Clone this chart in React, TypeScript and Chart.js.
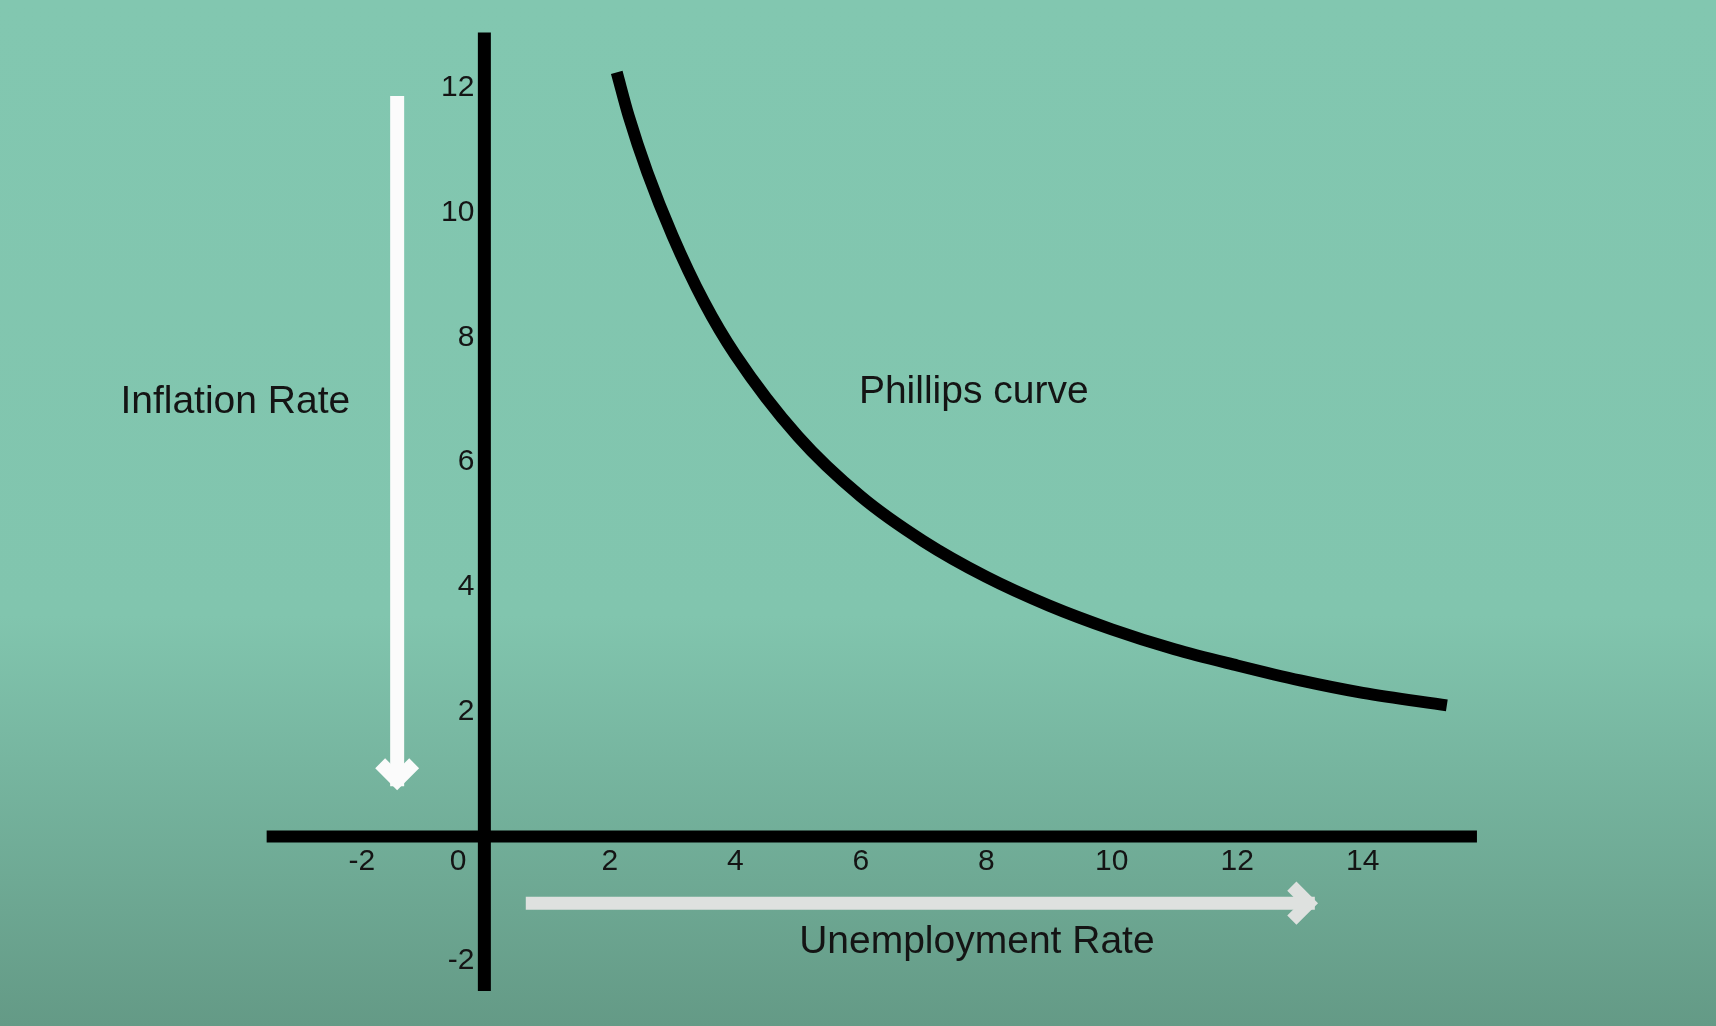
import React, { useEffect, useRef } from "react";
import { Chart, registerables } from "chart.js";

Chart.register(...registerables);

// ---- data ----
const unemployment = [2.11, 2.3, 2.6, 3.0, 3.5, 4.0, 5.0, 6.0, 7.0, 8.0, 9.0, 10.0, 11.0, 12.0, 13.0, 14.0, 15.34];
const inflation = [12.25, 11.55, 10.64, 9.63, 8.57, 7.72, 6.41, 5.45, 4.73, 4.16, 3.7, 3.32, 3.0, 2.74, 2.5, 2.3, 2.1];

const xTickValues = [-2, 0, 2, 4, 6, 8, 10, 12, 14];
const yTickValues = [12, 10, 8, 6, 4, 2, -2];

const xAxisExtent = [-3.47, 15.82];
const yAxisExtent = [-2.48, 12.89];

const curveLabel = "Phillips curve";
const xTitle = "Unemployment Rate";
const yTitle = "Inflation Rate";

// ---- layout constants (data units) ----
const X_MIN = -7.72;
const X_MAX = 19.63;
const Y_MIN = -3.04;
const Y_MAX = 13.41;

const FONT = '"Liberation Sans", Arial, Helvetica, sans-serif';
const TEXT = "#141414";

function chevron(ctx: CanvasRenderingContext2D, tx: number, ty: number, dx: number, dy: number, wing: number) {
  const px = -dy, py = dx;
  ctx.beginPath();
  ctx.moveTo(tx - dx * wing + px * wing, ty - dy * wing + py * wing);
  ctx.lineTo(tx, ty);
  ctx.lineTo(tx - dx * wing - px * wing, ty - dy * wing - py * wing);
  ctx.stroke();
}

const decorPlugin = {
  id: "decor",
  beforeDraw(chart: any) {
    const { ctx, width, height } = chart;
    const g = ctx.createLinearGradient(0, 0, 0, height);
    g.addColorStop(0, "#82C7B0");
    g.addColorStop(0.6, "#81C5AE");
    g.addColorStop(1, "#649A86");
    ctx.save();
    ctx.fillStyle = g;
    ctx.fillRect(0, 0, width, height);
    ctx.restore();
  },
  afterDatasetsDraw(chart: any) {
    const { ctx } = chart;
    const xs = chart.scales.x;
    const ys = chart.scales.y;
    const X = (v: number) => xs.getPixelForValue(v);
    const Y = (v: number) => ys.getPixelForValue(v);
    ctx.save();

    // vertical white arrow (pointing down)
    ctx.lineCap = "butt";
    ctx.lineJoin = "miter";
    ctx.strokeStyle = "#FBFBFB";
    ctx.lineWidth = 14;
    const vx = X(-1.39);
    const vTop = Y(11.87);
    const vTip = Y(0.74);
    ctx.beginPath();
    ctx.moveTo(vx, vTop);
    ctx.lineTo(vx, vTip - 4);
    ctx.stroke();
    chevron(ctx, vx, vTip - 10, 0, 1, 17);

    // horizontal light arrow (pointing right)
    ctx.strokeStyle = "#DEE1DF";
    ctx.lineWidth = 13;
    const hy = Y(-1.07);
    const hStart = X(0.66);
    const hTip = X(13.3);
    ctx.beginPath();
    ctx.moveTo(hStart, hy);
    ctx.lineTo(hTip - 4, hy);
    ctx.stroke();
    chevron(ctx, hTip - 10, hy, 1, 0, 17);

    // tick labels
    ctx.fillStyle = TEXT;
    ctx.font = `30px ${FONT}`;
    ctx.textBaseline = "middle";
    const x0 = X(0);
    const y0 = Y(0);
    xTickValues.forEach((v) => {
      if (v === 0) {
        ctx.textAlign = "right";
        ctx.fillText(String(v), x0 - 18, y0 + 25);
      } else {
        ctx.textAlign = "center";
        ctx.fillText(String(v), X(v) + (v < 0 ? 3 : 0), y0 + 25);
      }
    });
    ctx.textAlign = "right";
    yTickValues.forEach((v) => {
      ctx.fillText(String(v), x0 - 10, Y(v));
    });

    // titles / annotation
    ctx.font = `39px ${FONT}`;
    ctx.textAlign = "center";
    ctx.fillText(yTitle, X(-3.97), Y(6.96));
    ctx.fillText(curveLabel, X(7.8), Y(7.12));
    ctx.fillText(xTitle, X(7.85), Y(-1.7));
    ctx.restore();
  },
};

export default function App() {
  const ref = useRef<HTMLCanvasElement | null>(null);
  useEffect(() => {
    if (!ref.current) return;
    const curve = unemployment.map((x, i) => ({ x, y: inflation[i] }));
    const chart = new Chart(ref.current, {
      type: "scatter",
      data: {
        datasets: [
          {
            label: "x-axis",
            data: [
              { x: xAxisExtent[0], y: 0 },
              { x: xAxisExtent[1], y: 0 },
            ],
            showLine: true,
            borderColor: "#000",
            borderWidth: 12,
            borderCapStyle: "butt",
            pointRadius: 0,
          },
          {
            label: "y-axis",
            data: [
              { x: 0, y: yAxisExtent[0] },
              { x: 0, y: yAxisExtent[1] },
            ],
            showLine: true,
            borderColor: "#000",
            borderWidth: 13,
            borderCapStyle: "butt",
            pointRadius: 0,
          },
          {
            label: curveLabel,
            data: curve,
            showLine: true,
            borderColor: "#000",
            borderWidth: 12,
            borderCapStyle: "butt",
            borderJoinStyle: "round",
            cubicInterpolationMode: "monotone",
            pointRadius: 0,
          },
        ],
      },
      options: {
        animation: false,
        responsive: false,
        devicePixelRatio: 1,
        layout: { padding: 0 },
        plugins: { legend: { display: false }, tooltip: { enabled: false } },
        events: [],
        scales: {
          x: { type: "linear", min: X_MIN, max: X_MAX, display: false },
          y: { type: "linear", min: Y_MIN, max: Y_MAX, display: false },
        },
      },
      plugins: [decorPlugin],
    } as any);
    return () => chart.destroy();
  }, []);
  return (
    <div style={{ position: "absolute", left: 0, top: 0, width: 1716, height: 1026 }}>
      <canvas ref={ref} width={1716} height={1026} style={{ display: "block" }} />
    </div>
  );
}
